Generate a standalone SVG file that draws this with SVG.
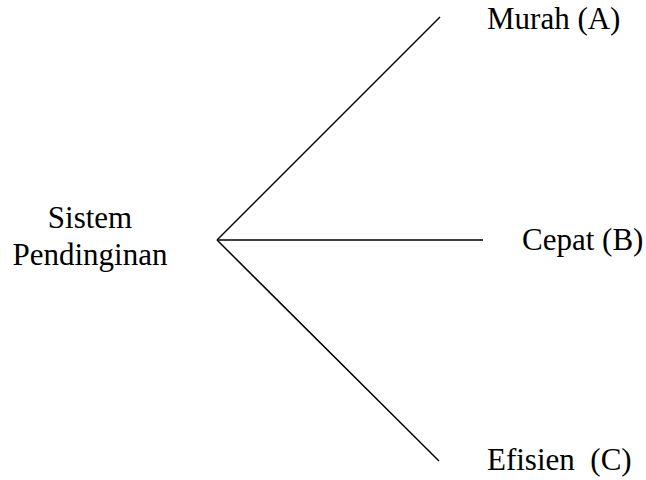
<svg xmlns="http://www.w3.org/2000/svg" width="646" height="480" viewBox="0 0 646 480">
  <style>
    .lbl { font-family: "Liberation Serif", "Times New Roman", serif; font-size: 31px; fill: #000; white-space: pre; }
    .edge { stroke: #000; stroke-width: 1.5; fill: none; }
  </style>
  <rect width="646" height="480" fill="#fff"/>
  <g id="connectors">
    <line class="edge" x1="217" y1="240" x2="440" y2="17"/>
    <line class="edge" x1="217" y1="240" x2="483" y2="240"/>
    <line class="edge" x1="217" y1="240" x2="439" y2="461"/>
  </g>
  <g id="sistem-pendinginan">
    <text class="lbl" x="90" y="228" text-anchor="middle">Sistem</text>
    <text class="lbl" x="90" y="265" text-anchor="middle">Pendinginan</text>
  </g>
  <g id="murah">
    <text class="lbl" x="487" y="29">Murah (A)</text>
  </g>
  <g id="cepat">
    <text class="lbl" x="522" y="250">Cepat (B)</text>
  </g>
  <g id="efisien">
    <text class="lbl" x="487" y="470">Efisien  (C)</text>
  </g>
</svg>
